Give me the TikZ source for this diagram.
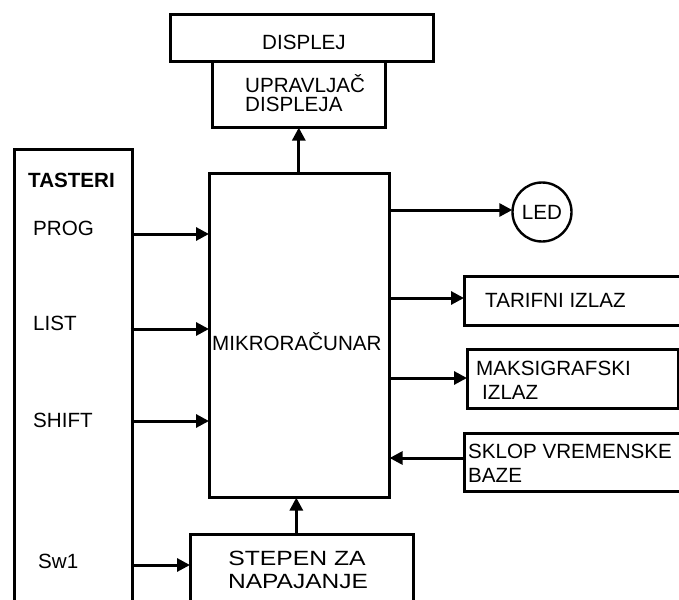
\documentclass[tikz,border=0pt]{standalone}
\usepackage{fontspec}
\setmainfont{Liberation Sans}
\usetikzlibrary{arrows.meta}
\begin{document}
\begin{tikzpicture}[x=1pt,y=-1pt,
  box/.style={draw, line width=2.6pt, inner sep=0pt, anchor=north west},
  lbl/.style={inner sep=0pt, anchor=base west, font=\fontsize{20.6}{24}\selectfont},
  clbl/.style={inner sep=0pt, anchor=base, font=\fontsize{20.6}{24}\selectfont},
  arr/.style={line width=3pt, -{Triangle[length=13pt,width=13pt]}, shorten >=-1pt}]
\clip (0,0) rectangle (679,599);
% boxes
\node[box, minimum width=263pt, minimum height=47pt] (disp) at (169,13) {};
\node[box, minimum width=173pt, minimum height=66pt] (upr) at (211,60) {};
\node[box, minimum width=118pt, minimum height=480pt] (tast) at (13,148) {};
\node[box, minimum width=180pt, minimum height=324pt] (mikro) at (208,172) {};
\node[box, minimum width=223pt, minimum height=100pt] (stepen) at (189,533) {};
\node[draw, line width=2.4pt, circle, minimum size=59pt, inner sep=0pt,
      font=\fontsize{20.6}{24}\selectfont] (led) at (542,212) {LED};
\node[box, minimum width=250pt, minimum height=49pt] (tarif) at (463,275) {};
\node[box, minimum width=211pt, minimum height=59pt] (maks) at (466,348) {};
\node[box, minimum width=250pt, minimum height=58pt] (sklop) at (463,432) {};
% texts
\node[lbl] (tdisp) at (262,50) {DISPLEJ};
\node[lbl] (tupr1) at (245,93) {UPRAVLJAČ};
\node[lbl] (tupr2) at (245,112) {DISPLEJA};
\node[lbl, font=\fontsize{20.6}{24}\selectfont\bfseries] (ttast) at (28,187) {TASTERI};
\node[lbl] (tprog) at (33,235) {PROG};
\node[lbl] (tlist) at (33,330) {LIST};
\node[lbl] (tshift) at (33,427) {SHIFT};
\node[lbl] (tsw) at (38,568) {Sw1};
\node[lbl] (tmikro) at (212,350) {MIKRORAČUNAR};
\node[clbl] (tstep1) at (297,565) {\scalebox{1.2}[1]{STEPEN ZA}};
\node[clbl] (tstep2) at (298,588) {\scalebox{1.19}[1]{NAPAJANJE}};
\node[lbl] (ttarif) at (485,307) {TARIFNI IZLAZ};
\node[lbl] (tmaks1) at (476,375) {MAKSIGRAFSKI};
\node[lbl] (tmaks2) at (482,399) {IZLAZ};
\node[lbl] (tsklop1) at (468,458) {SKLOP VREMENSKE};
\node[lbl] (tsklop2) at (468,482) {BAZE};
% connectors
\draw[arr] (mikro.north -| upr.south) -- (upr.south);
\draw[arr] ([xshift=-3pt]stepen.north -| mikro.south) -- ([xshift=-3pt]mikro.south);
\draw[arr] (tast.east |- 0,234) -- (mikro.west |- 0,234);
\draw[arr] ([xshift=-3pt]tast.east |- 0,329) -- (mikro.west |- 0,329);
\draw[arr] (tast.east |- 0,421) -- (mikro.west |- 0,421);
\draw[arr] (tast.east |- 0,565) -- (stepen.west |- 0,565);
\draw[arr] (mikro.east |- 0,210) -- (led.west |- 0,210);
\draw[arr] (mikro.east |- 0,298) -- (tarif.west |- 0,298);
\draw[arr] (mikro.east |- 0,378) -- (maks.west |- 0,378);
\draw[arr] (sklop.west |- 0,458) -- (mikro.east |- 0,458);
\end{tikzpicture}
\end{document}
